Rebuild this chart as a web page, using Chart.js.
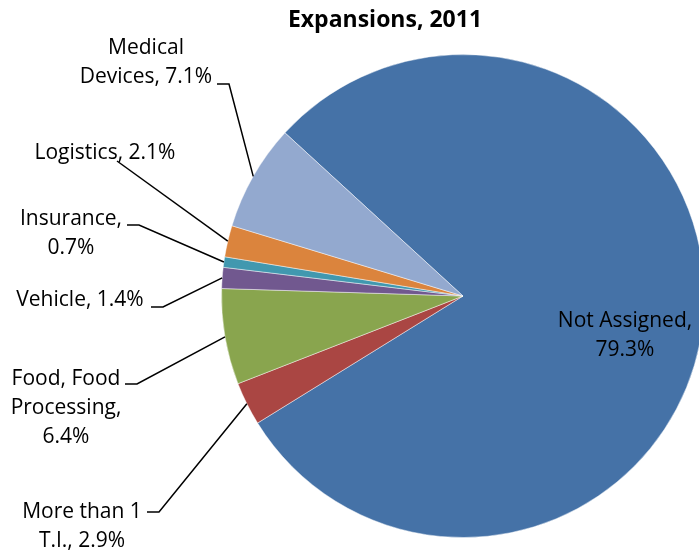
<!DOCTYPE html>
<html>
<head>
<meta charset="utf-8">
<script src="https://cdn.jsdelivr.net/npm/chart.js@4.4.0/dist/chart.umd.min.js"></script>
<style>
  html, body { margin: 0; padding: 0; background: #fff; overflow: hidden; }
  #wrap { position: absolute; left: 0; top: 0; width: 926px; height: 552px; }
</style>
</head>
<body>
<div id="wrap"><canvas id="pieChart" width="926" height="552"></canvas></div>
<script>
// Chart data
const categories = ["Not Assigned", "More than 1 T.I.", "Food, Food Processing", "Vehicle", "Insurance", "Logistics", "Medical Devices"];
const shares = [79.3, 2.9, 6.4, 1.4, 0.7, 2.1, 7.1];
const sliceColors = ["#4572A7", "#AA4643", "#89A54E", "#71588F", "#4198AF", "#DB843D", "#93A9CF"];
const chartTitle = "Expansions, 2011";

// Label placement (pixels) - breaks = word index where a new line starts
const labelLayout = [
  { x: 625, y: 321, breaks: [2] },
  { x: 82,  y: 512, breaks: [3], from: [147, 512], elbow: [159, 512] },
  { x: 66,  y: 379, breaks: [2, 3], from: [125, 384], elbow: [137, 384] },
  { x: 80,  y: 300, breaks: [], from: [151, 307], elbow: [163, 307] },
  { x: 71,  y: 219, breaks: [1], from: [127, 225], elbow: [139, 225] },
  { x: 105, y: 153, breaks: [], from: [117, 161] },
  { x: 146, y: 48,  breaks: [1], from: [217, 84], elbow: [229, 84] }
];
const lineHeight = 29;
const labelFont = "21px 'Open Sans'";

function labelLines(i) {
  const words = (categories[i] + ", " + shares[i].toFixed(1) + "%").split(" ");
  const lines = [];
  let cur = [];
  words.forEach((w, k) => {
    if (labelLayout[i].breaks.includes(k) && cur.length) { lines.push(cur.join(" ")); cur = []; }
    cur.push(w);
  });
  lines.push(cur.join(" "));
  return lines;
}

// Draws title, data labels and leader lines
const labelPlugin = {
  id: "pieLabels",
  afterDatasetsDraw(chart) {
    const ctx = chart.ctx;
    const meta = chart.getDatasetMeta(0);
    ctx.save();
    ctx.fillStyle = "#000";
    ctx.textAlign = "center";
    ctx.textBaseline = "middle";
    ctx.font = "bold 23px 'Open Sans'";
    ctx.fillText(chartTitle, 385, 20);

    ctx.font = labelFont;
    meta.data.forEach((arc, i) => {
      const lay = labelLayout[i];
      labelLines(i).forEach((line, k) => ctx.fillText(line, lay.x, lay.y + k * lineHeight));
      if (!lay.from) return;
      const p = arc.getProps(["x", "y", "startAngle", "endAngle", "outerRadius"], true);
      const mid = (p.startAngle + p.endAngle) / 2;
      const ex = p.x + Math.cos(mid) * p.outerRadius;
      const ey = p.y + Math.sin(mid) * p.outerRadius;
      ctx.strokeStyle = "#000";
      ctx.lineWidth = 1.5;
      ctx.beginPath();
      ctx.moveTo(lay.from[0], lay.from[1]);
      if (lay.elbow) ctx.lineTo(lay.elbow[0], lay.elbow[1]);
      ctx.lineTo(ex, ey);
      ctx.stroke();
    });
    ctx.restore();
  }
};

const pieCtx = document.getElementById("pieChart").getContext("2d");
new Chart(pieCtx, {
  type: "pie",
  data: {
    labels: categories,
    datasets: [{
      data: shares,
      backgroundColor: sliceColors,
      borderColor: "rgba(255,255,255,0.45)",
      borderWidth: 1
    }]
  },
  options: {
    responsive: false,
    animation: false,
    rotation: -47.5,
    layout: { padding: { left: 221, right: 221, top: 54, bottom: 14 } },
    plugins: {
      legend: { display: false },
      title: { display: false },
      tooltip: { enabled: false }
    }
  },
  plugins: [labelPlugin]
});
</script>
</body>
</html>
